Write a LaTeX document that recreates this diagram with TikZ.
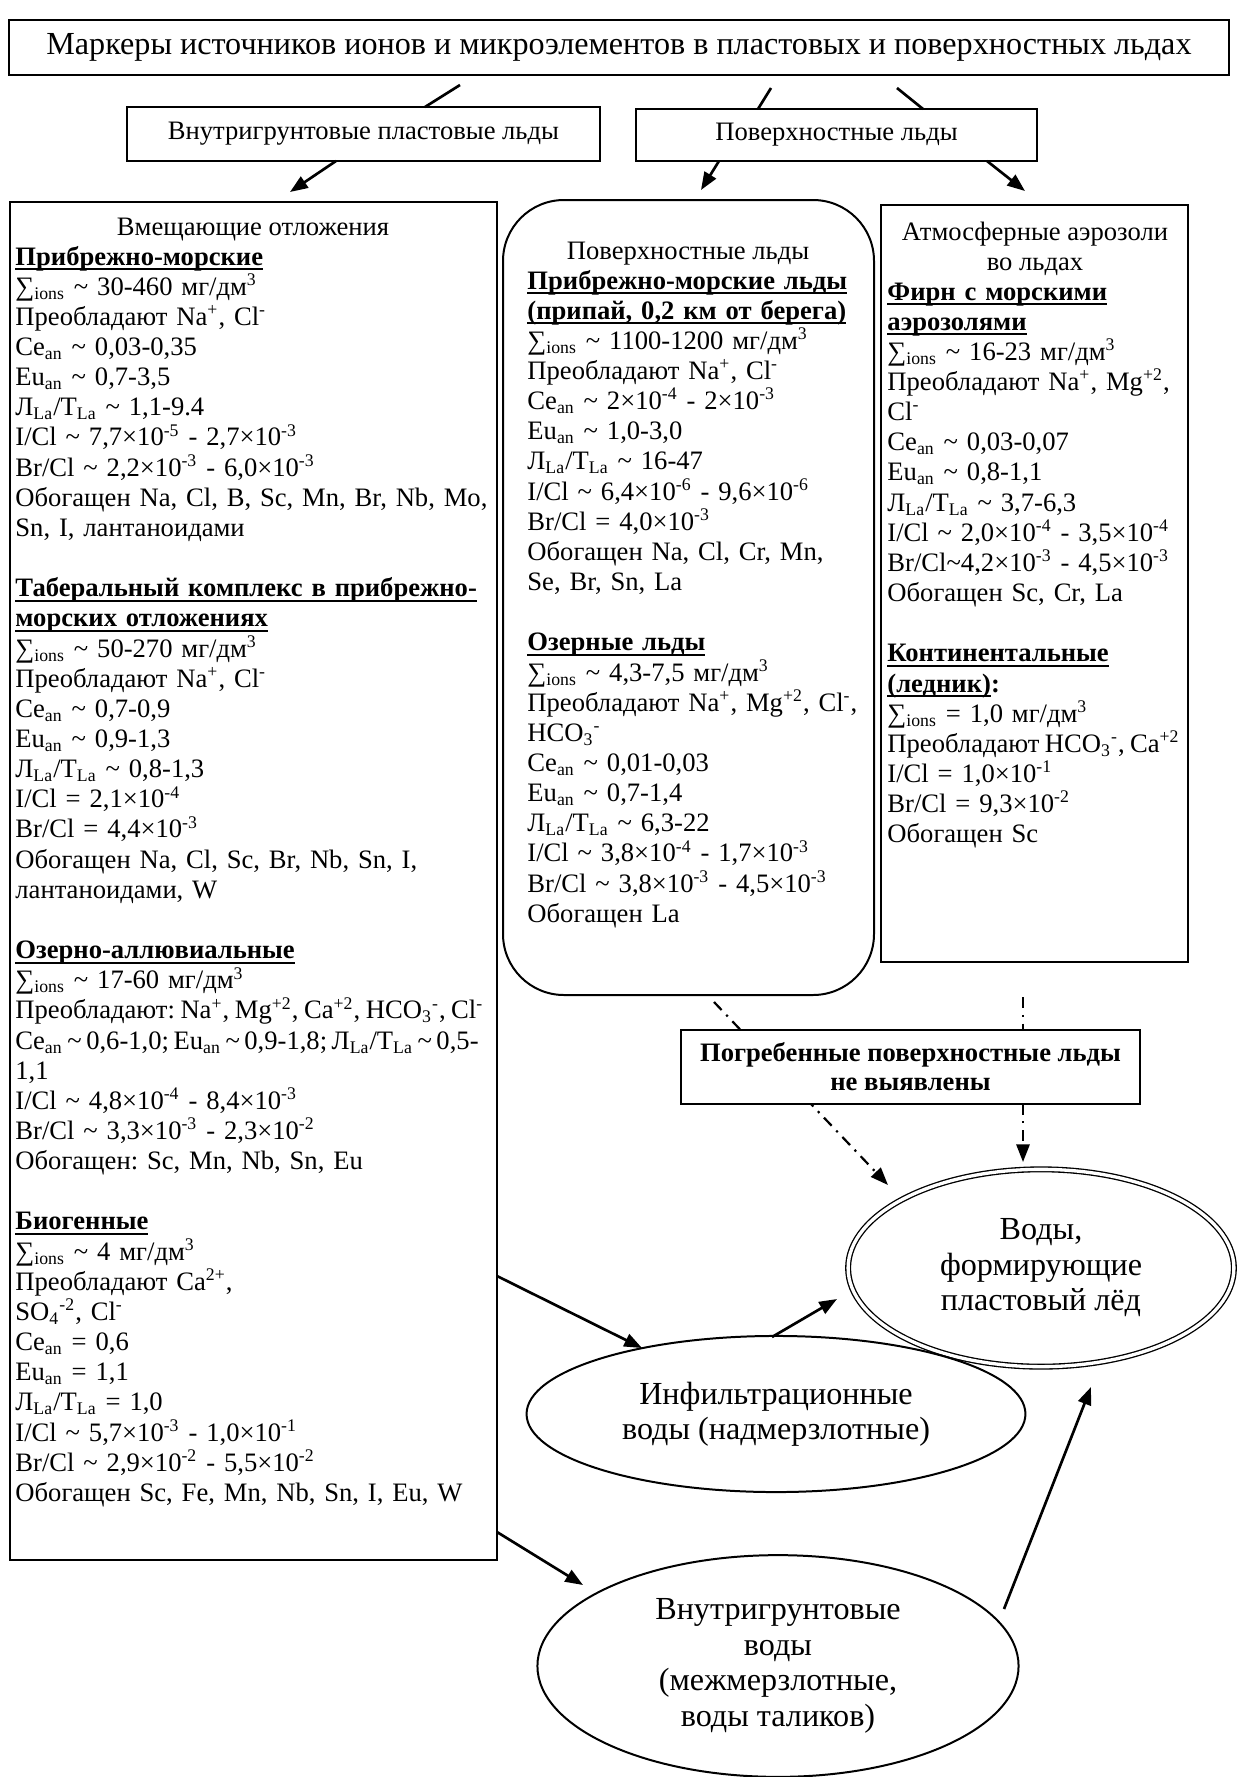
\documentclass[tikz,border=0pt]{standalone}
\usepackage{fontspec}
\setmainfont{Liberation Serif}
\usetikzlibrary{arrows.meta,fit,shapes.geometric}
\newlength\hdw
\newcommand\tld{\textasciitilde}
\newcommand\sps[1]{\textsuperscript{#1}}
\newcommand\sbs[1]{\textsubscript{#1}}
\newcommand\sumi{∑\sbs{ions}}
\newcommand\LT{Л\sbs{La}/T\sbs{La}}
\newcommand\hd[1]{\leavevmode\settowidth\hdw{\textbf{#1}}\rlap{\rule[-2.4pt]{\hdw}{0.9pt}}\textbf{#1}}
\tikzset{
  frame/.style={draw, line width=1pt, inner sep=0pt},
  lbl/.style={inner sep=0pt, anchor=center, align=center, font={\fontsize{12}{13.6}\selectfont}},
  body/.style={anchor=base west, inner sep=0pt, align=left, text width=#1,
    font={\fontsize{12}{13.6}\selectfont\lineskiplimit=-30pt\frenchspacing}},
  head/.style={anchor=base, inner sep=0pt, font={\fontsize{12}{13.6}\selectfont}},
  link/.style={line width=1.2pt},
  arr/.style={line width=1.2pt, -{Triangle[length=8pt,width=6pt]}},
  dd/.style={line width=1pt, dash pattern=on 5pt off 3pt on 1pt off 3pt, -{Triangle[length=8pt,width=6pt]}},
  oval/.style={ellipse, draw, line width=0.9pt, inner sep=0pt, align=center,
    font={\fontsize{14.5}{16}\selectfont}},
}
\begin{document}
\begin{tikzpicture}[x=0.451pt,y=-0.451pt]
\path[fill=white, use as bounding box] (0,0) rectangle (1238,1777);

% top level
\node[frame, fit={(9,20) (1229,75)}] (title) {};
\node[lbl, font={\fontsize{14.5}{17}\selectfont}] (titlet) at (title.center)
  {Маркеры источников ионов и микроэлементов в пластовых и поверхностных льдах};
\node[frame, fit={(127,107) (600,161)}] (B1) {};
\node[lbl] (B1t) at (B1.center) {Внутригрунтовые пластовые льды};
\node[frame, fit={(636,109) (1037,161)}] (B2) {};
\node[lbl] (B2t) at (B2.center) {Поверхностные льды};

% boxes
\node[frame, fit={(10,202) (497,1560)}] (L) {};
\node[frame, line width=0.9pt, rounded corners=27.5pt, fit={(503,200) (874,995)}] (M) {};
\node[frame, fit={(881,205) (1188,962)}] (R) {};

% left box text
\node[head] (Lh) at (253,235) {Вмещающие отложения};
\node[body=232pt] (Lb) at (15,265) {\hd{Прибрежно-морские}\\
\sumi{} \tld{} 30-460 мг/дм\sps{3}\\
Преобладают Na\sps{+}, Cl\sps{-}\\
Ce\sbs{an} \tld{} 0,03-0,35\\
Eu\sbs{an} \tld{} 0,7-3,5\\
\LT{} \tld{} 1,1-9.4\\
I/Cl \tld{} 7,7×10\sps{-5} - 2,7×10\sps{-3}\\
Br/Cl \tld{} 2,2×10\sps{-3} - 6,0×10\sps{-3}\\
Обогащен Na, Cl, B, Sc, Mn, Br, Nb, Mo,\\
Sn, I, лантаноидами\\[13.6pt]
\hd{Таберальный комплекс в прибрежно-}\\
\hd{морских отложениях}\\
\sumi{} \tld{} 50-270 мг/дм\sps{3}\\
Преобладают Na\sps{+}, Cl\sps{-}\\
Ce\sbs{an} \tld{} 0,7-0,9\\
Eu\sbs{an} \tld{} 0,9-1,3\\
\LT{} \tld{} 0,8-1,3\\
I/Cl = 2,1×10\sps{-4}\\
Br/Cl = 4,4×10\sps{-3}\\
Обогащен Na, Cl, Sc, Br, Nb, Sn, I,\\
лантаноидами, W\\[13.6pt]
\hd{Озерно-аллювиальные}\\
\sumi{} \tld{} 17-60 мг/дм\sps{3}\\
{\spaceskip=0.21em plus 0.1em Преобладают: Na\sps{+}, Mg\sps{+2}, Ca\sps{+2}, HCO\sbs{3}\sps{-}, Cl\sps{-}}\\
{\spaceskip=0.17em plus 0.1em Ce\sbs{an} \tld{} 0,6-1,0; Eu\sbs{an} \tld{} 0,9-1,8; \LT{} \tld{} 0,5-}\\
1,1\\
I/Cl \tld{} 4,8×10\sps{-4} - 8,4×10\sps{-3}\\
Br/Cl \tld{} 3,3×10\sps{-3} - 2,3×10\sps{-2}\\
Обогащен: Sc, Mn, Nb, Sn, Eu\\[13.6pt]
\hd{Биогенные}\\
\sumi{} \tld{} 4 мг/дм\sps{3}\\
Преобладают Ca\sps{2+},\\
SO\sbs{4}\sps{-2}, Cl\sps{-}\\
Ce\sbs{an} = 0,6\\
Eu\sbs{an} = 1,1\\
\LT{} = 1,0\\
I/Cl \tld{} 5,7×10\sps{-3} - 1,0×10\sps{-1}\\
Br/Cl \tld{} 2,9×10\sps{-2} - 5,5×10\sps{-2}\\
Обогащен Sc, Fe, Mn, Nb, Sn, I, Eu, W};

% middle box text
\node[head] (Mh) at (688,259) {Поверхностные льды};
\node[body=180pt] (Mb) at (527,289) {\hd{Прибрежно-морские льды}\\
\hd{(припай, 0,2 км от берега)}\\
\sumi{} \tld{} 1100-1200 мг/дм\sps{3}\\
Преобладают Na\sps{+}, Cl\sps{-}\\
Ce\sbs{an} \tld{} 2×10\sps{-4} - 2×10\sps{-3}\\
Eu\sbs{an} \tld{} 1,0-3,0\\
\LT{} \tld{} 16-47\\
I/Cl \tld{} 6,4×10\sps{-6} - 9,6×10\sps{-6}\\
Br/Cl = 4,0×10\sps{-3}\\
Обогащен Na, Cl, Cr, Mn,\\
Se, Br, Sn, La\\[13.6pt]
\hd{Озерные льды}\\
\sumi{} \tld{} 4,3-7,5 мг/дм\sps{3}\\
Преобладают Na\sps{+}, Mg\sps{+2}, Cl\sps{-},\\
HCO\sbs{3}\sps{-}\\
Ce\sbs{an} \tld{} 0,01-0,03\\
Eu\sbs{an} \tld{} 0,7-1,4\\
\LT{} \tld{} 6,3-22\\
I/Cl \tld{} 3,8×10\sps{-4} - 1,7×10\sps{-3}\\
Br/Cl \tld{} 3,8×10\sps{-3} - 4,5×10\sps{-3}\\
Обогащен La};

% right box text
\node[head] (Rh1) at (1035,240) {Атмосферные аэрозоли};
\node[head] (Rh2) at (1035,270) {во льдах};
\node[body=160pt] (Rb) at (887,300) {\hd{Фирн с морскими}\\
\hd{аэрозолями}\\
\sumi{} \tld{} 16-23 мг/дм\sps{3}\\
Преобладают Na\sps{+}, Mg\sps{+2},\\
Cl\sps{-}\\
Ce\sbs{an} \tld{} 0,03-0,07\\
Eu\sbs{an} \tld{} 0,8-1,1\\
\LT{} \tld{} 3,7-6,3\\
I/Cl \tld{} 2,0×10\sps{-4} - 3,5×10\sps{-4}\\
Br/Cl\tld{}4,2×10\sps{-3} - 4,5×10\sps{-3}\\
Обогащен Sc, Cr, La\\[13.6pt]
\hd{Континентальные}\\
\hd{(ледник)}\textbf{:}\\
\sumi{} = 1,0 мг/дм\sps{3}\\
{\spaceskip=0.2em plus 0.1em Преобладают HCO\sbs{3}\sps{-}, Ca\sps{+2}}\\
I/Cl = 1,0×10\sps{-1}\\
Br/Cl = 9,3×10\sps{-2}\\
Обогащен Sc};

% ellipses
\node[oval, double, double distance=1.5pt, line width=0.6pt, minimum width=174pt, minimum height=89pt] (W) at (1041,1268)
  {Воды,\\формирующие\\пластовый лёд};
\node[oval, minimum width=225pt, minimum height=70.4pt] (I) at (776,1414)
  {Инфильтрационные\\воды (надмерзлотные)};
\node[oval, minimum width=217pt, minimum height=100pt] (G) at (778,1666)
  {Внутригрунтовые\\воды\\(межмерзлотные,\\воды таликов)};

% connector end points
\coordinate (a1s) at (460,85);  \coordinate (a1e) at (425,107);
\coordinate (a2s) at (771,88);  \coordinate (a2e) at (758,109);
\coordinate (a3s) at (897,88);  \coordinate (a3e) at (923,109);
\coordinate (r1s) at (336,161); \coordinate (r1e) at (290,192);
\coordinate (r2s) at (719,161); \coordinate (r2e) at (701,190);
\coordinate (r3s) at (987,161); \coordinate (r3e) at (1025,191);
\coordinate (d1s) at (714,1002); \coordinate (d1e) at (888,1185);
\coordinate (d2s) at (1023,997); \coordinate (d2e) at (1023,1162);
\coordinate (s1s) at (497,1276); \coordinate (s1e) at (642,1348);
\coordinate (s2s) at (497,1532); \coordinate (s2e) at (583,1585);
\coordinate (s3s) at (772,1337); \coordinate (s3e) at (837,1299);
\coordinate (s4s) at (1004,1609); \coordinate (s4e) at (1091,1387);

\draw[link] (a1s) -- (a1e);
\draw[link] (a2s) -- (a2e);
\draw[link] (a3s) -- (a3e);
\draw[arr] (r1s) -- (r1e);
\draw[arr] (r2s) -- (r2e);
\draw[arr] (r3s) -- (r3e);
\draw[dd] (d1s) -- (d1e);
\draw[dd] (d2s) -- (d2e);
\draw[arr] (s1s) -- (s1e);
\draw[arr] (s2s) -- (s2e);
\draw[arr] (s3s) -- (s3e);
\draw[arr] (s4s) -- (s4e);

% buried ice box (over the dash-dot lines)
\node[frame, fill=white, fit={(681,1030) (1140,1104)}] (P) {};
\node[lbl, font={\fontsize{12}{13.1}\selectfont\bfseries}] (Pt) at (P.center)
  {Погребенные поверхностные льды\\не выявлены};
\end{tikzpicture}
\end{document}
